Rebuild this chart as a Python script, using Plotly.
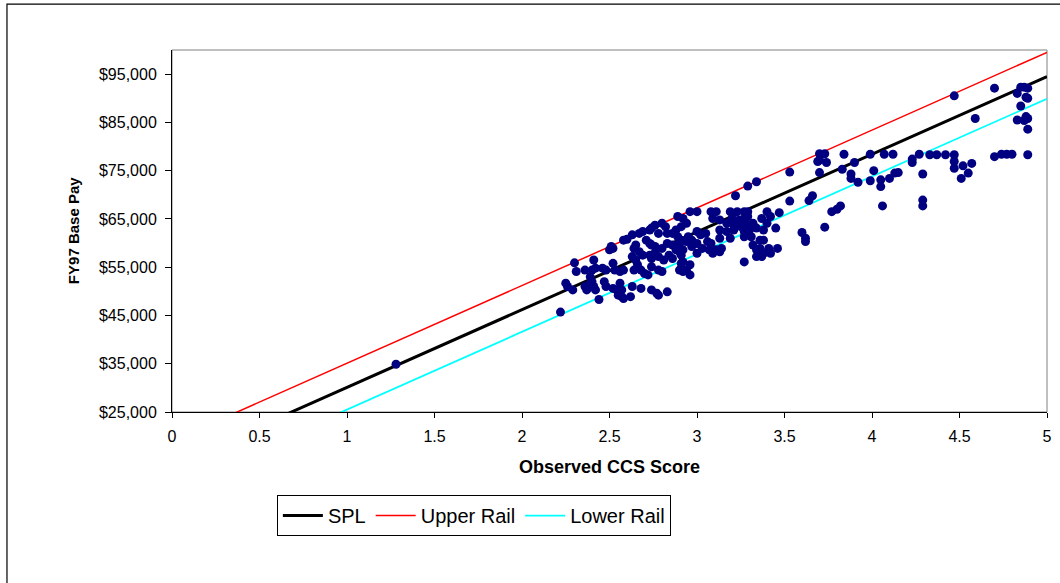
import plotly.graph_objects as go

# ---- data ----
score = [
    2.76, 2.80, 2.82, 2.74, 2.73, 2.69, 2.67, 2.63, 2.58, 2.60, 2.51, 2.52, 2.50, 2.78, 2.83, 2.86, 2.88, 2.89,
    2.71, 2.73, 2.74, 2.76, 2.80, 2.83, 2.86, 2.88, 2.90, 2.65, 2.64, 2.67, 2.69, 2.73, 2.74, 2.76, 2.78, 2.81,
    2.84, 2.86, 2.90, 2.63, 2.65, 2.66, 2.64, 2.68, 2.70, 2.72, 2.74, 2.78, 2.80, 2.90, 2.91, 2.30, 2.31, 2.36,
    2.40, 2.41, 2.42, 2.46, 2.48, 2.52, 2.53, 2.56, 2.58, 2.25, 2.26, 2.29, 2.36, 2.37, 2.38, 2.39, 2.40, 2.41,
    2.42, 2.47, 2.48, 2.52, 2.54, 2.56, 2.57, 2.63, 2.68, 2.74, 2.77, 2.78, 2.83, 2.55, 2.57, 2.58, 2.62, 2.44,
    2.22, 1.28,
    3.22, 3.29, 3.34, 3.53, 3.53,
    2.96, 3.00, 3.08, 3.11, 3.19, 3.23, 3.27, 3.29, 3.40, 3.42, 3.47,
    2.89, 2.92, 2.94, 2.91,
    3.09, 3.13, 3.20, 3.24, 3.27, 3.29, 3.37, 3.40,
    3.17, 3.21, 3.25, 3.28, 3.32,
    3.13, 3.17, 3.21, 3.27, 3.30, 3.34, 3.38, 3.45,
    3.00, 3.02, 3.05, 2.95,
    3.13, 3.19, 3.27, 3.31, 3.36, 3.38,
    2.91, 2.94, 2.97, 3.00, 3.06, 3.08,
    2.90, 2.92, 2.97, 3.03, 3.07, 3.11, 3.14,
    2.91, 3.00, 3.09, 3.13,
    3.32, 3.34, 3.36, 3.38, 3.41, 3.42, 3.46,
    3.34, 3.37, 3.27,
    2.92, 2.96, 2.94, 2.91, 2.96, 2.92,
    3.70, 3.73, 3.70, 3.74, 3.69, 3.70, 3.84, 3.99, 4.07, 4.12, 4.23, 4.23, 4.27, 3.90, 3.83, 3.88, 3.88, 3.92,
    4.01, 3.99, 4.05, 4.05, 4.10, 4.13, 4.15, 4.29, 4.29, 4.29, 3.66, 3.64, 3.77, 3.80, 3.82, 4.06, 3.73, 3.60,
    3.62, 3.62,
    4.47, 4.70, 4.83, 4.85, 4.87, 4.89, 4.88, 4.89, 4.85, 4.59, 4.83, 4.87, 4.89, 4.88, 4.89, 4.33, 4.37, 4.42,
    4.47, 4.70, 4.74, 4.77, 4.80, 4.89, 4.47, 4.47, 4.52, 4.55, 4.57, 4.51,
]
pay = [
    63700, 64100, 63400, 63100, 62700, 62400, 62000, 61700, 60600, 60800, 59300, 58900, 58600, 62000, 62000, 62000, 62700, 61300,
    60600, 59900, 59600, 59300, 58900, 59900, 59600, 58600, 59900, 59600, 58900, 58200, 57500, 57500, 56800, 57900, 57200, 56500,
    57500, 56800, 58200, 57200, 56500, 55500, 54400, 54400, 53700, 53400, 55100, 54400, 54100, 54400, 55800, 55900, 54100, 54400,
    54400, 56500, 54800, 54800, 54400, 55800, 54400, 54100, 54400, 51700, 51000, 50300, 51000, 50300, 51300, 53000, 52000, 51000,
    50300, 52000, 51000, 50600, 50300, 51700, 50300, 51000, 50600, 50300, 49600, 49200, 49900, 49200, 48900, 48500, 48900, 48300,
    45700, 34900,
    69800, 71800, 72700, 74700, 68700,
    66500, 66500, 66500, 66500, 66500, 66500, 66500, 66500, 66500, 65500, 66300,
    65500, 65100, 64100, 63400,
    65100, 64800, 65100, 64800, 65100, 65500, 65100, 64100,
    64100, 63700, 63400, 64100, 64100,
    62700, 62400, 62700, 62400, 62700, 63100, 62700, 63100,
    62400, 61700, 62000, 61300,
    61000, 61000, 61300, 61300, 60600, 60600,
    60600, 60300, 60600, 59900, 60300, 59900,
    58900, 58600, 59300, 58900, 58600, 58600, 58900,
    57500, 57900, 57900, 58200,
    59600, 58600, 58900, 57900, 58900, 57900, 58900,
    57200, 57200, 56100,
    56100, 55500, 54400, 54800, 53400, 54100,
    78500, 78500, 77200, 76700, 76900, 74600, 78400, 78400, 78400, 78400, 77400, 76700, 78400, 76700, 75300, 74300, 73400, 72600,
    75000, 72900, 73100, 71700, 73400, 74500, 74600, 74300, 68900, 67700, 69800, 68800, 66500, 67000, 67700, 67700, 63300, 62200,
    61000, 60300,
    90500, 92100, 91000, 92300, 92300, 92100, 90200, 90000, 88400, 85800, 85500, 85400, 85800, 86200, 83600, 78300, 78300, 78300,
    78300, 77900, 78400, 78400, 78400, 78300, 76900, 75500, 76000, 74500, 76500, 73400,
]

line_x = [0, 5]
spl_y = [14000, 94500]
upper_y = [19000, 99500]
lower_y = [9400, 89900]

x_tick_vals = [0, 0.5, 1, 1.5, 2, 2.5, 3, 3.5, 4, 4.5, 5]
x_tick_text = ["0", "0.5", "1", "1.5", "2", "2.5", "3", "3.5", "4", "4.5", "5"]
y_tick_vals = [25000, 35000, 45000, 55000, 65000, 75000, 85000, 95000]
y_tick_text = ["$25,000", "$35,000", "$45,000", "$55,000", "$65,000", "$75,000", "$85,000", "$95,000"]

x_title = "Observed CCS Score"
y_title = "FY97 Base Pay"

FONT = "Liberation Sans, Arial, sans-serif"

fig = go.Figure()
fig.add_trace(go.Scatter(x=line_x, y=spl_y, mode="lines", name="SPL",
                         line=dict(color="black", width=3)))
fig.add_trace(go.Scatter(x=line_x, y=upper_y, mode="lines", name="Upper Rail",
                         line=dict(color="#FF0000", width=1.5)))
fig.add_trace(go.Scatter(x=line_x, y=lower_y, mode="lines", name="Lower Rail",
                         line=dict(color="#00FFFF", width=1.8)))
fig.add_trace(go.Scatter(x=score, y=pay, mode="markers", showlegend=False,
                         marker=dict(color="#000080", size=9, line=dict(width=0))))

fig.update_layout(
    width=1060, height=583,
    margin=dict(l=172, r=8, t=50, b=171),
    paper_bgcolor="white", plot_bgcolor="white",
    font=dict(family=FONT, color="black", size=16),
    showlegend=True,
    legend=dict(orientation="h", x=0.345, xanchor="center", y=-0.286, yanchor="middle",
                bordercolor="black", borderwidth=1, font=dict(size=20, family=FONT),
                bgcolor="white", itemwidth=40),
    xaxis=dict(range=[0, 5], tickvals=x_tick_vals, ticktext=x_tick_text,
               showgrid=False, zeroline=False, showline=True, linecolor="black", linewidth=1,
               ticks="outside", ticklen=5, tickcolor="black", ticklabelstandoff=5,
               tickfont=dict(size=16, family=FONT)),
    yaxis=dict(range=[25000, 100000], tickvals=y_tick_vals, ticktext=y_tick_text,
               showgrid=False, zeroline=False, showline=True, linecolor="black", linewidth=1,
               ticks="outside", ticklen=6, tickcolor="black", ticklabelstandoff=5,
               tickfont=dict(size=16, family=FONT)),
    annotations=[
        dict(text="<b>" + x_title + "</b>", xref="paper", yref="paper", x=0.5, y=-0.152,
             xanchor="center", yanchor="middle", showarrow=False, font=dict(size=18, family=FONT)),
        dict(text="<b>" + y_title + "</b>", xref="paper", yref="paper", x=-0.113, y=0.5,
             xanchor="center", yanchor="middle", textangle=-90, showarrow=False,
             font=dict(size=15, family=FONT)),
    ],
    shapes=[
        dict(type="rect", xref="paper", yref="paper", x0=0, x1=1, y0=0, y1=1,
             line=dict(color="#808080", width=1), layer="below"),
        dict(type="rect", xref="paper", yref="paper", x0=-0.1886, x1=1.05, y0=-0.6, y1=1.127,
             line=dict(color="black", width=1.2), layer="below"),
    ],
)

fig.write_html("out.html", config={"displayModeBar": False},
               post_script="document.body.style.margin='0';")
